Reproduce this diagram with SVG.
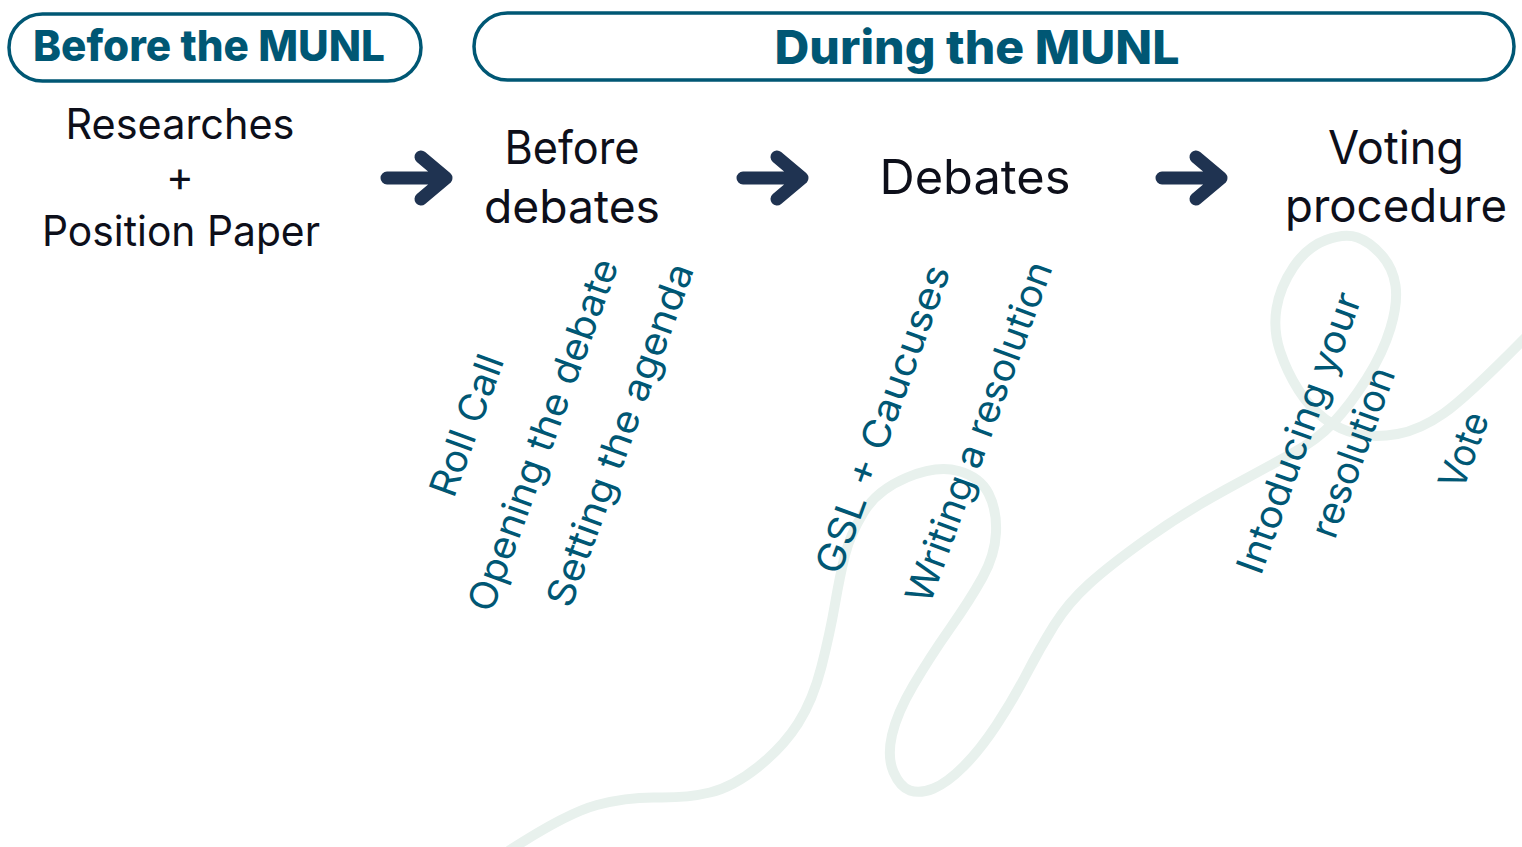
<svg xmlns="http://www.w3.org/2000/svg" width="1522" height="847" viewBox="0 0 1522 847">
  <style>
    .bg { fill: #ffffff; }
    .swirl { fill: none; stroke: #e8f1ed; stroke-width: 10; stroke-linecap: round; stroke-linejoin: round; }
    .pill { fill: #ffffff; stroke: #005774; stroke-width: 3.5; }
    .head { font-family: Inter, "Noto Sans", "Liberation Sans", sans-serif; font-weight: 800; fill: #005774; text-anchor: middle; }
    .step { font-family: Inter, "Noto Sans", "Liberation Sans", sans-serif; font-weight: 400; fill: #0d0f1a; text-anchor: middle; }
    .sub { font-family: Inter, "Noto Sans", "Liberation Sans", sans-serif; font-weight: 400; font-size: 38px; fill: #005774; text-anchor: middle; }
    .arrow { fill: none; stroke: #1f3351; stroke-width: 13; stroke-linecap: round; stroke-linejoin: round; }
  </style>

  <rect class="bg" x="0" y="0" width="1522" height="847"/>

  <!-- decorative ribbon behind everything -->
  <path class="swirl" d="M510 850 Q567 813 597 805 Q627 797 657 797.5 Q687 798 710 792.5 Q733 787 758 767 Q783 747 798 723.5 Q813 700 821.5 666.5 Q830 633 835 604 Q840 575 845 555 Q850 535 863.5 512.5 Q877 490 907 477.5 Q937 465 958.5 471 Q980 477 988.5 493.5 Q997 510 996 532.5 Q995 555 982.5 577.5 Q970 600 950 628.5 Q930 657 913.5 685 Q897 713 892 735 Q887 757 893.5 772 Q900 787 910 790.5 Q920 794 933.5 788.5 Q947 783 963.5 766.5 Q980 750 996.5 725 Q1013 700 1026.5 674 Q1040 648 1054 625.5 Q1068 603 1089 584 Q1110 565 1146.5 539 Q1183 513 1225 490 Q1267 467 1292 453.5 Q1317 440 1333.5 422.5 Q1350 405 1366.5 379 Q1383 353 1390.5 328 Q1398 303 1395.5 285.5 Q1393 268 1381.5 255 Q1370 242 1357.5 237.5 Q1345 233 1326 240 Q1307 247 1293.5 267 Q1280 287 1276.5 308.5 Q1273 330 1280 351 Q1287 372 1298.5 390 Q1310 408 1325 419 Q1340 430 1357.5 434 Q1375 438 1397.5 434 Q1420 430 1443.5 413.5 Q1467 397 1525 338"/>

  <!-- phase headers -->
  <g id="phase-before">
    <rect class="pill" x="9" y="14" width="412" height="67" rx="33.5"/>
    <text class="head" x="209" y="61" font-size="43" textLength="352" lengthAdjust="spacingAndGlyphs">Before the MUNL</text>
  </g>
  <g id="phase-during">
    <rect class="pill" x="474" y="13" width="1040" height="67" rx="33.5"/>
    <text class="head" x="977" y="64" font-size="47" textLength="405" lengthAdjust="spacingAndGlyphs">During the MUNL</text>
  </g>

  <!-- main steps -->
  <g id="step-research">
    <text class="step" x="180" y="139" font-size="42" textLength="229" lengthAdjust="spacingAndGlyphs">Researches</text>
    <text class="step" x="180" y="191" font-size="42">+</text>
    <text class="step" x="181" y="246" font-size="42" textLength="278" lengthAdjust="spacingAndGlyphs">Position Paper</text>
  </g>
  <g id="step-before-debates">
    <text class="step" x="572" y="164" font-size="46" textLength="135" lengthAdjust="spacingAndGlyphs">Before</text>
    <text class="step" x="572" y="223" font-size="46" textLength="176" lengthAdjust="spacingAndGlyphs">debates</text>
  </g>
  <g id="step-debates">
    <text class="step" x="975" y="194" font-size="48" textLength="191" lengthAdjust="spacingAndGlyphs">Debates</text>
  </g>
  <g id="step-voting">
    <text class="step" x="1396" y="164" font-size="46" textLength="136" lengthAdjust="spacingAndGlyphs">Voting</text>
    <text class="step" x="1396" y="222" font-size="46" textLength="222" lengthAdjust="spacingAndGlyphs">procedure</text>
  </g>

  <!-- sub-steps, slanted -->
  <g id="sub-roll-call">
    <text class="sub" transform="translate(466 425) rotate(-70)" y="14" textLength="148" lengthAdjust="spacingAndGlyphs">Roll Call</text>
  </g>
  <g id="sub-opening">
    <text class="sub" transform="translate(546 436) rotate(-70)" y="10" textLength="372" lengthAdjust="spacingAndGlyphs">Opening the debate</text>
  </g>
  <g id="sub-agenda">
    <text class="sub" transform="translate(623 436) rotate(-70)" y="10" textLength="362" lengthAdjust="spacingAndGlyphs">Setting the agenda</text>
  </g>
  <g id="sub-gsl">
    <text class="sub" transform="translate(882 419) rotate(-70)" y="14" textLength="325" lengthAdjust="spacingAndGlyphs">GSL + Caucuses</text>
  </g>
  <g id="sub-writing">
    <text class="sub" transform="translate(982 433) rotate(-70)" y="10" textLength="360" lengthAdjust="spacingAndGlyphs">Writing a resolution</text>
  </g>
  <g id="sub-introducing">
    <text class="sub" transform="translate(1302 434) rotate(-70)" y="10" textLength="296" lengthAdjust="spacingAndGlyphs">Intoducing your</text>
    <text class="sub" transform="translate(1352 452) rotate(-70)" y="14" textLength="178" lengthAdjust="spacingAndGlyphs">resolution</text>
  </g>
  <g id="sub-vote">
    <text class="sub" transform="translate(1463 450) rotate(-70)" y="14" textLength="78" lengthAdjust="spacingAndGlyphs">Vote</text>
  </g>

  <!-- connectors -->
  <g id="connectors">
    <path class="arrow" d="M387 178 H446 M421 157 L446 178 L421 199"/>
    <path class="arrow" d="M743 178 H802 M777 157 L802 178 L777 199"/>
    <path class="arrow" d="M1162 178 H1221 M1196 157 L1221 178 L1196 199"/>
  </g>
</svg>
